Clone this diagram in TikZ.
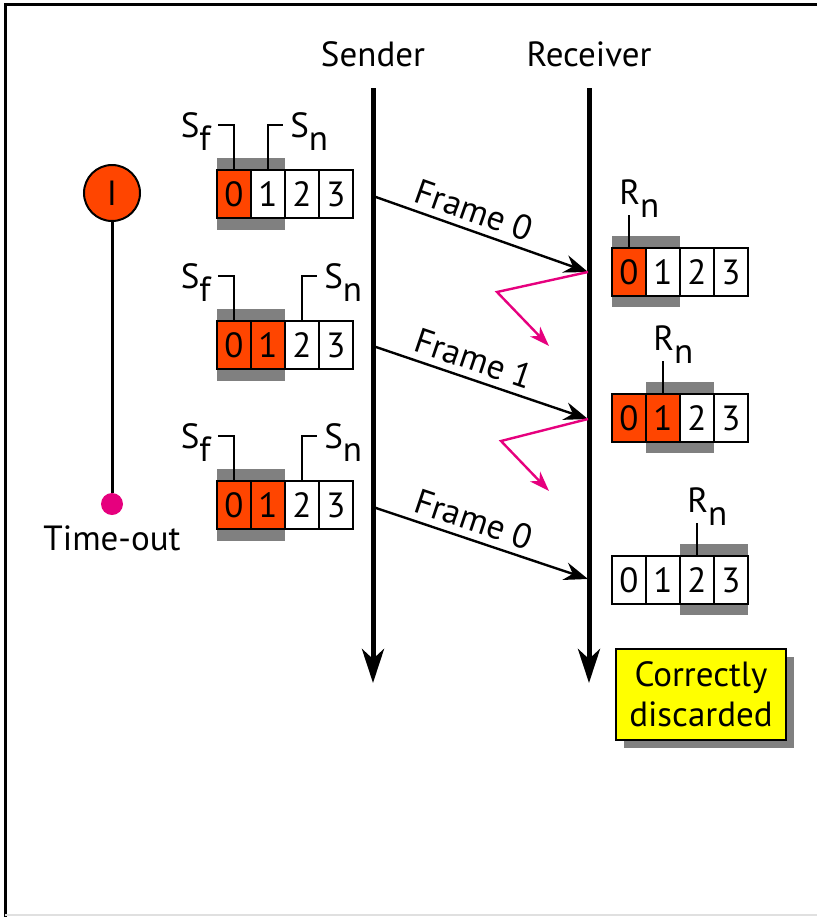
\documentclass[tikz,border=0pt]{standalone}
\usepackage{fontspec}
\setmainfont{PT Sans}
\usetikzlibrary{arrows.meta,shadows,positioning}
\definecolor{winred}{HTML}{FF4500}
\definecolor{band}{HTML}{808080}
\definecolor{ackpink}{HTML}{E6007E}
\definecolor{notefill}{HTML}{FFFF00}

\tikzset{
  cell/.style={draw,line width=1pt,minimum width=17pt,minimum height=24pt,inner sep=0pt,fill=white},
  winband/.style={fill=band},
  pointer/.style={line width=0.8pt},
  timeline/.style={line width=2.5pt,-{Stealth[length=17pt,width=11pt,inset=5pt]}},
  framearrow/.style={line width=1.2pt,-{Stealth[length=12pt,width=9pt,inset=4pt]}},
  ack/.style={ackpink,line width=1.2pt,-{Stealth[length=10pt,width=7pt,inset=3pt]}},
}
\newcommand{\subtxt}[2]{#1\raisebox{-0.38em}{#2}}

\begin{document}
\begin{tikzpicture}[x=0.5pt,y=-0.5pt,font=\fontsize{17.5}{20}\selectfont]
  \useasboundingbox (0,0) rectangle (817,917);
  \draw[line width=1.5pt] (5,917)--(5,4)--(817,4);
  \draw[line width=1pt,black!12] (5,915)--(817,915);

  % sender and receiver time lines
  \node[anchor=base] (snd) at (373,66) {Sender};
  \node[anchor=base] (rcv) at (589,66) {Receiver};
  \coordinate (sTop) at (373,88); \coordinate (sBot) at (373,683);
  \coordinate (rTop) at (589,88); \coordinate (rBot) at (589,683);
  \draw[timeline] (sTop)--(sBot);
  \draw[timeline] (rTop)--(rBot);

  % sender windows: name / top / red cells / Sn cell
  \foreach \w/\top/\nred/\sn in {sa/170/1/1, sb/321/2/2, sc/481/2/2} {
    \fill[winband] (217,\top-12) rectangle (285,\top+60);
    \foreach \i in {0,...,3} {
      \ifnum\i<\nred \def\cellcol{winred}\else\def\cellcol{white}\fi
      \node[cell,fill=\cellcol] (\w\i) at ({234+34*\i},{\top+24}) {\i};
    }
    \draw[pointer] (\w0.north)--++(0,-44)--++(-16,0) coordinate (\w f);
    \draw[pointer] (\w\sn.north)--++(0,-44)--++(15,0) coordinate (\w n);
    \node[anchor=base east,inner sep=0pt] (\w fl) at ([shift={(-7,12)}]\w f) {\subtxt{S}{f}};
    \node[anchor=base west,inner sep=0pt] (\w nl) at ([shift={(7,12)}]\w n) {\subtxt{S}{n}};
  }

  % receiver windows: name / top / red cells / Rn cell
  \foreach \w/\top/\nred/\rn in {ra/248/1/0, rb/394/2/1, rc/556/0/2} {
    \fill[winband] ({612+34*\rn},\top-12) rectangle ({612+34*(\rn+2)},\top+59);
    \foreach \i in {0,...,3} {
      \ifnum\i<\nred \def\cellcol{winred}\else\def\cellcol{white}\fi
      \node[cell,fill=\cellcol] (\w\i) at ({629+34*\i},{\top+24}) {\i};
    }
    \draw[pointer] (\w\rn.north)--++(0,-32) coordinate (\w p);
    \node[anchor=base west,inner sep=0pt] (\w pl) at ([shift={(-10,-11)}]\w p) {\subtxt{R}{n}};
  }

  % frames
  \coordinate (fa1) at (373,196); \coordinate (fa2) at (588,272);
  \coordinate (fb1) at (373,346); \coordinate (fb2) at (588,419);
  \coordinate (fc1) at (373,507); \coordinate (fc2) at (588,579);
  \draw[framearrow] (fa1)--(fa2) node[pos=0.44,above=0pt,sloped] {Frame 0};
  \draw[framearrow] (fb1)--(fb2) node[pos=0.44,above=0pt,sloped] {Frame 1};
  \draw[framearrow] (fc1)--(fc2) node[pos=0.44,above=0pt,sloped] {Frame 0};

  % lost acks
  \coordinate (ka) at (497,292); \coordinate (kb) at (501,441);
  \coordinate (ta) at (549,346); \coordinate (tb) at (549,491);
  \draw[ack] (fa2)--(ka)--(ta);
  \draw[ack] (fb2)--(kb)--(tb);

  % timer
  \node[circle,draw,line width=1pt,fill=winred,minimum size=28pt,inner sep=0pt] (timer) at (112,193) {I};
  \node[circle,fill=ackpink,minimum size=11pt,inner sep=0pt] (tdot) at (112,504) {};
  \draw[line width=1.5pt] (timer)--(tdot);
  \node[anchor=base] (tout) at (112,550) {Time-out};

  % note
  \node[draw,line width=1pt,fill=notefill,minimum width=85pt,minimum height=45.5pt,align=center,inner sep=2pt,
        drop shadow={shadow xshift=4pt,shadow yshift=-4pt,fill=band,opacity=1}] (note) at (701,694.5) {Correctly\\discarded};
\end{tikzpicture}
\end{document}
